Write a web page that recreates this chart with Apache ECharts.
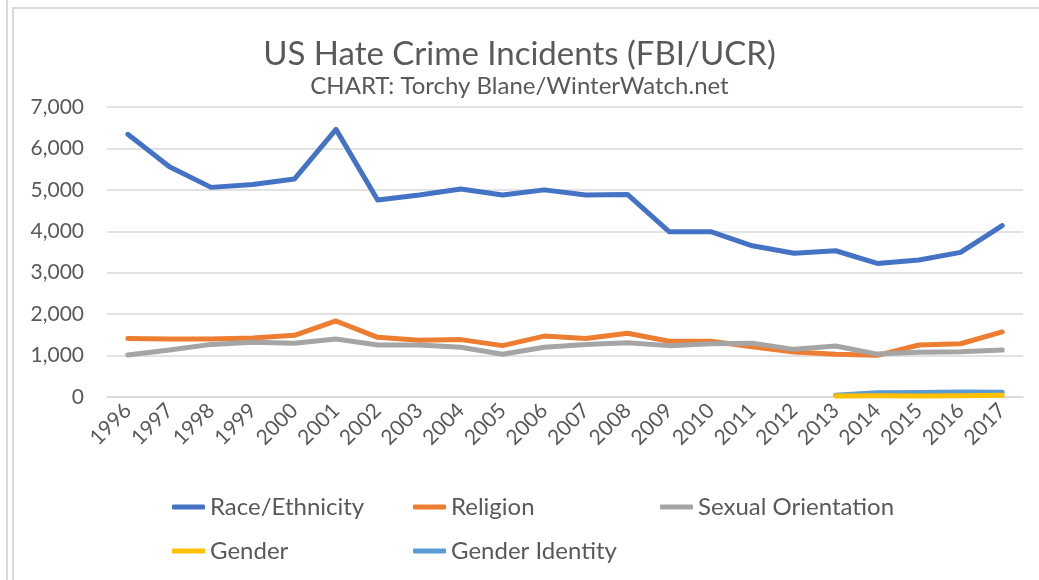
<!DOCTYPE html>
<html>
<head>
<meta charset="utf-8">
<script src="https://cdn.jsdelivr.net/npm/echarts@6/dist/echarts.min.js"></script>
<style>html,body{margin:0;padding:0;background:#fff}#c{width:1039px;height:580px}</style>
</head>
<body>
<div id="c"></div>
<script>
const years = ['1996','1997','1998','1999','2000','2001','2002','2003','2004','2005','2006','2007','2008','2009','2010','2011','2012','2013','2014','2015','2016','2017'];
const raceEthnicity = [6340,5560,5060,5130,5260,6460,4755,4875,5020,4875,5000,4875,4890,3990,3990,3650,3470,3530,3225,3305,3490,4135];
const religion = [1415,1400,1400,1425,1490,1835,1440,1370,1385,1240,1470,1410,1540,1345,1345,1215,1085,1030,1005,1255,1285,1570];
const sexualOrientation = [1015,1135,1270,1320,1295,1400,1255,1255,1200,1030,1200,1270,1310,1240,1285,1300,1150,1230,1035,1080,1095,1135];
const gender = [null,null,null,null,null,null,null,null,null,null,null,null,null,null,null,null,null,25,30,25,30,40];
const genderIdentity = [null,null,null,null,null,null,null,null,null,null,null,null,null,null,null,null,null,40,105,110,120,115];
const yTicks = [0,1000,2000,3000,4000,5000,6000,7000];

const FONT = 'Lato';
const TXT = '#595959';
const names = ['Race/Ethnicity','Religion','Sexual Orientation','Gender','Gender Identity'];
const colors = ['#4472C4','#ED7D31','#A5A5A5','#FFC000','#5B9BD5'];
const datas = [raceEthnicity, religion, sexualOrientation, gender, genderIdentity];
const order = [0,1,2,4,3];

const chart = echarts.init(document.getElementById('c'));
const legendPos = [[172,495],[413,495],[660,495],[172,539],[413,539]];
chart.setOption({
  animation:false,
  backgroundColor:'#fff',
  color: colors,
  title:{
    text:'US Hate Crime Incidents (FBI/UCR)',
    subtext:'CHART: Torchy Blane/WinterWatch.net',
    left:'center', top:33, itemGap:3,
    textStyle:{fontFamily:FONT,fontSize:33,fontWeight:'normal',color:TXT},
    subtextStyle:{fontFamily:FONT,fontSize:24,color:TXT}
  },
  legend: names.map((n,i)=>({
    data:[n], left:legendPos[i][0], top:legendPos[i][1], padding:0,
    icon:'roundRect', itemWidth:33, itemHeight:5, itemGap:0,
    textStyle:{fontFamily:FONT,fontSize:24,color:TXT}
  })),
  grid:{left:107,right:16,top:107,bottom:183,containLabel:false},
  xAxis:{
    type:'category', data:years, boundaryGap:true,
    axisLine:{show:true,lineStyle:{color:'#d9d9d9',width:1.5}},
    axisTick:{show:false},
    axisLabel:{rotate:45,fontFamily:FONT,fontSize:21,color:TXT,margin:10,interval:0}
  },
  yAxis:{
    type:'value', min:yTicks[0], max:yTicks[yTicks.length-1], interval:1000,
    axisLine:{show:false}, axisTick:{show:false},
    splitLine:{lineStyle:{color:'#d9d9d9',width:1.5}},
    axisLabel:{fontFamily:FONT,fontSize:21,color:TXT,margin:23,
      formatter:v=>v.toLocaleString('en-US')}
  },
  series: order.map(i=>({
    name:names[i], type:'line', data:datas[i], showSymbol:false, symbol:'none',
    connectNulls:false,
    lineStyle:{width:5,color:colors[i],cap:'round',join:'round'},
    itemStyle:{color:colors[i]}
  })),
  graphic:[
    {type:'rect',shape:{x:6,y:0,width:2,height:580},style:{fill:'#d9d9d9'},silent:true},
    {type:'rect',shape:{x:12,y:7,width:2,height:573},style:{fill:'#d9d9d9'},silent:true},
    {type:'rect',shape:{x:12,y:7,width:1027,height:2},style:{fill:'#d9d9d9'},silent:true}
  ]
});
</script>
</body>
</html>
